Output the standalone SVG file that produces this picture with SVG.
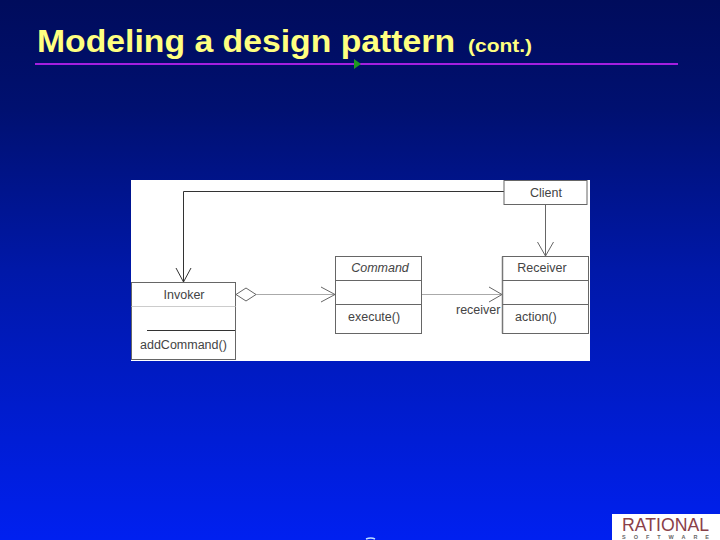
<svg xmlns="http://www.w3.org/2000/svg" width="720" height="540" viewBox="0 0 720 540">
<defs>
<linearGradient id="bg" x1="0" y1="0" x2="0" y2="1">
<stop offset="0" stop-color="#000c5c"/>
<stop offset="0.2" stop-color="#001070"/>
<stop offset="0.5" stop-color="#0018a8"/>
<stop offset="1" stop-color="#0020f0"/>
</linearGradient>
</defs>
<style>
.t{font-family:"Liberation Sans",Arial,sans-serif;font-weight:bold;fill:#ffff80}
.u{font-family:"Liberation Sans",Arial,sans-serif;font-size:12.5px;fill:#444}
.m{text-anchor:middle}
.b{fill:#fff;stroke:#666;stroke-width:1}
.l{fill:none;stroke:#666;stroke-width:1}
.s{fill:none;stroke:#ccc;stroke-width:1}
.g{fill:none;stroke:#aaa;stroke-width:1}
.k{fill:none;stroke:#333;stroke-width:1}
</style>
<rect width="720" height="540" fill="url(#bg)"/>
<text class="t" x="37" y="51.500" font-size="32" textLength="418" lengthAdjust="spacingAndGlyphs">Modeling a design pattern</text>
<text class="t" x="468" y="52" font-size="18" textLength="64" lengthAdjust="spacingAndGlyphs">(cont.)</text>
<line x1="35" y1="64" x2="678" y2="64" stroke="#a41fe0" stroke-width="2"/>
<polygon points="354,59 361,64 354,69" fill="#1f9a1f"/>
<rect x="131" y="180" width="459" height="181" fill="#fff"/>
<g id="connectors">
<path class="k" d="M504,191.500H183.500V282"/>
<path class="k" d="M176,268L183.500,282L191,268"/>
<path class="l" d="M545.500,205V256"/>
<path class="l" d="M537.500,242L545.500,256L553.500,242"/>
<polygon class="l" points="236,294.500 246,288 256,294.500 246,301"/>
<path class="g" d="M256,294.500H335"/>
<path class="l" d="M321,287L335,294.500L321,302"/>
<path class="g" d="M422,294.500H502"/>
<path class="l" d="M489,287L502,294.500L489,302"/>
<text class="u" x="456" y="314">receiver</text>
</g>
<g id="client">
<rect class="b" x="504" y="180.500" width="83" height="24"/>
<text class="u m" x="546" y="197">Client</text>
</g>
<g id="invoker">
<rect class="b" x="131.500" y="282.500" width="104" height="77"/>
<line class="s" x1="131.500" y1="306.500" x2="235.500" y2="306.500"/>
<line class="k" x1="147" y1="330.500" x2="235" y2="330.500"/>
<text class="u m" x="184" y="299">Invoker</text>
<text class="u" x="140" y="349">addCommand()</text>
</g>
<g id="command">
<rect class="b" x="335.500" y="256.500" width="86" height="77"/>
<line class="l" x1="335.500" y1="280.500" x2="421.500" y2="280.500"/>
<line class="l" x1="335.500" y1="304.500" x2="421.500" y2="304.500"/>
<text class="u m" x="380" y="272" font-style="italic">Command</text>
<text class="u" x="348" y="321">execute()</text>
</g>
<g id="receiver">
<rect class="b" x="502.500" y="256.500" width="86" height="77"/>
<line x1="502.500" y1="256.500" x2="502.500" y2="333.500" stroke="#777" stroke-width="1.500"/>
<line class="l" x1="502.500" y1="280.500" x2="588.500" y2="280.500"/>
<line class="l" x1="502.500" y1="304.500" x2="588.500" y2="304.500"/>
<text class="u m" x="542" y="272">Receiver</text>
<text class="u" x="515" y="321">action()</text>
</g>
<g id="logo">
<rect x="612" y="514" width="108" height="26" fill="#fff"/>
<text x="622" y="531" font-family="'Liberation Sans',Arial,sans-serif" font-size="19" fill="#8a4048" textLength="87" lengthAdjust="spacingAndGlyphs">RATIONAL</text>
<text x="622" y="538.500" font-family="'Liberation Sans',Arial,sans-serif" font-size="5.500" font-weight="bold" fill="#666" textLength="87">SOFTWARE</text>
</g>
<path d="M366,539Q371,537 375,539" fill="none" stroke="#bfe0ff" stroke-width="1.500"/>
</svg>
